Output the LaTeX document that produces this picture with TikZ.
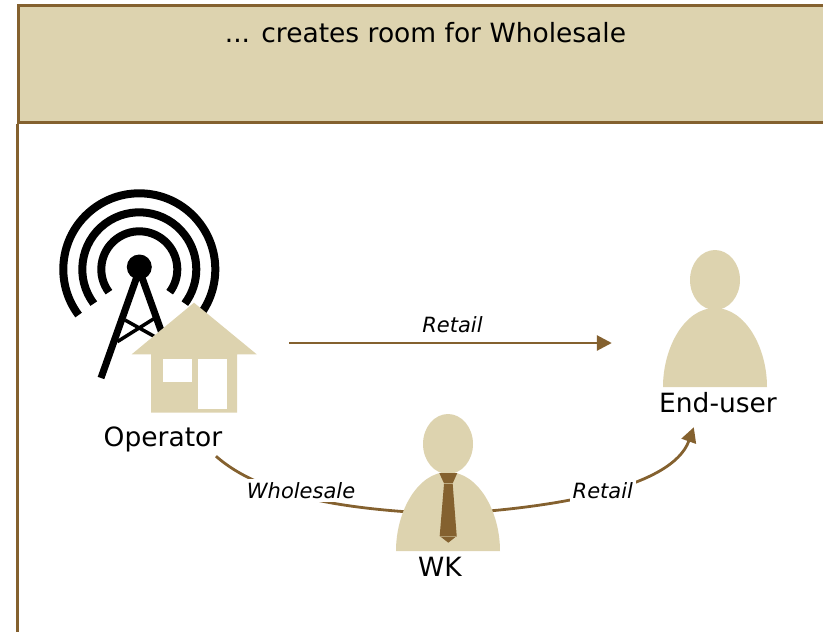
\documentclass[tikz,border=0pt]{standalone}
\usepackage{fontspec}
\setmainfont{DejaVu Sans}
\usetikzlibrary{arrows.meta}
\definecolor{sand}{HTML}{DDD3AF}
\definecolor{umber}{HTML}{84612F}
\tikzset{
	person/.pic={
		\fill[sand] (0,-107) ellipse[x radius=25,y radius=30];
		\fill[sand] (-52,0) .. controls (-52,-40) and (-30,-79) .. (0,-79)
			.. controls (30,-79) and (52,-40) .. (52,0) -- cycle;
	},
	labelnode/.style={font=\fontsize{26.5}{30}\selectfont, text=black, inner sep=0pt},
	flowlabel/.style={font=\fontsize{21}{25}\selectfont\itshape, text=black, fill=white, inner sep=3pt},
	flow/.style={draw=umber, line width=2.8pt, -{Triangle[length=15pt,width=15pt]}},
	plainflow/.style={draw=umber, line width=2.8pt},
	iconbox/.style={inner sep=0pt, minimum height=76pt},
}
\begin{document}
\begin{tikzpicture}[x=1pt,y=-1pt]
	\useasboundingbox (0,0) rectangle (823,632);
	% header
	\node[draw=umber, fill=sand, line width=2.5pt, inner sep=0pt, minimum width=814pt, minimum height=117pt] (header) at (425.5,64) {};
	\node[labelnode] (title) at (425.5,33) {... creates room for Wholesale};
	\coordinate (framefoot) at (18.7,640);
	\draw[umber, line width=2.5pt] (header.south west) -- (header.south west |- framefoot);

	% invisible boxes round the icons, for the connectors
	\node[iconbox, minimum width=230pt] (operatoricon) at (174,343) {};
	\node[iconbox, minimum width=206pt] (endusericon) at (715,343) {};
	\node[iconbox, minimum width=104pt] (wkicon) at (448,514) {};
	\node[labelnode, minimum height=34pt] (operator) at (163,439) {Operator};
	\node[labelnode, minimum height=48pt] (enduser) at (718,403) {End-user};
	\node[labelnode] (wk) at (440,567) {WK};

	% connectors
	\draw[flow] (operatoricon.east) -- node[flowlabel, fill=none, above=6pt, xshift=2pt] (retailtop) {Retail} (endusericon.west);
	\draw[plainflow] (operator.-18.5) .. controls (260,495) and (340,510) .. node[flowlabel, pos=.47, yshift=6pt] (wholesale) {Wholesale} (wkicon.center);
	\draw[flow] (wkicon.center) .. controls (555,508) and (672,488) .. node[flowlabel, pos=.5] (retailwk) {Retail} (enduser.-135);

	% tower
	\foreach \r in {38,57,76}
		\draw[line width=8pt] (139.3,269.3) ++(217:\r pt) arc[start angle=217,end angle=-37,radius=\r pt];
	\fill (139.3,267) circle[radius=12.5pt];
	\draw[line width=7pt] (101,378) -- (139.3,270) -- (178,378);
	\draw[line width=3.5pt] (117.3,341.7) -- (155,318);
	\draw[line width=3.5pt] (125,320) -- (160.7,340);

	% house
	\fill[sand] (194,302.7) -- (256.7,354.3) -- (237,354.3) -- (237,412.7) -- (151,412.7) -- (151,354.3) -- (131.7,354.3) -- cycle;
	\fill[white] (163,359) rectangle (192,381.7);
	\fill[white] (198,359) rectangle (227,409);

	% people
	\pic at (715,387) {person};
	\pic at (448,551) {person};

	% tie
	\fill[umber] (439.3,473) -- (457.3,473) -- (452.7,483.3) -- (444,483.3) -- cycle;
	\fill[umber] (444,484) -- (452.7,484) -- (456.7,536) -- (448.3,542.7) -- (439.7,536) -- cycle;
	\draw[sand!50!umber, line width=.5pt] (439.7,536) -- (456.7,536);
\end{tikzpicture}
\end{document}
